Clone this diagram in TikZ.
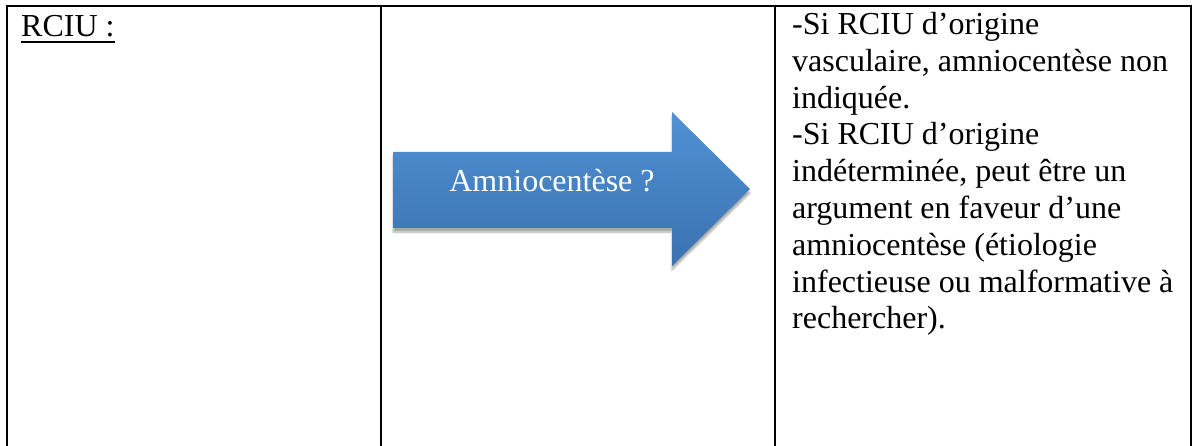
\documentclass[tikz,border=0pt]{standalone}
\usepackage{fontspec}
\setmainfont{Liberation Serif}
\usetikzlibrary{shadows.blur}
\definecolor{arrowtop}{HTML}{5092D4}
\definecolor{arrowbot}{HTML}{3B71B0}
\begin{document}
\begin{tikzpicture}[x=1pt, y=-1pt,
    rule/.style={line width=2pt, line cap=rect},
    celltext/.style={inner sep=0pt, align=left, font=\fontsize{32}{36.8}\selectfont},
    bluearrow/.style={top color=arrowtop, bottom color=arrowbot, draw=none,
      blur shadow={shadow xshift=0pt, shadow yshift=-4pt, shadow opacity=35, shadow blur steps=8}}]
    \useasboundingbox (0,0) rectangle (1195,446);
    % Table frame (open at the bottom)
    \draw[rule] (7,446) -- (7,6.5) -- (1190.5,6.5) -- (1190.5,446);
    \draw[rule] (381,6.5) -- (381,446);
    \draw[rule] (775,6.5) -- (775,446);
    % Left cell
    \node[celltext, anchor=base west] (rciu) at (21,37) {RCIU :};
    \draw[line width=1.4pt] ([yshift=-5]rciu.base west) -- ([yshift=-5]rciu.base east);
    % Arrow
    \path[bluearrow] (393,152) -- (672,152) -- (672,112) -- (750,189)
      -- (672,266) -- (672,228) -- (393,228) -- cycle;
    \node[celltext, text=white] (question) at (552,181) {Amniocentèse ?};
    % Right cell
    \node[celltext, anchor=north west] (answer) at (792,12)
      {-Si RCIU d’origine\\
       vasculaire, amniocentèse non\\
       indiquée.\\
       -Si RCIU d’origine\\
       indéterminée, peut être un\\
       argument en faveur d’une\\
       amniocentèse (étiologie\\
       infectieuse ou malformative à\\
       rechercher).};
\end{tikzpicture}
\end{document}
